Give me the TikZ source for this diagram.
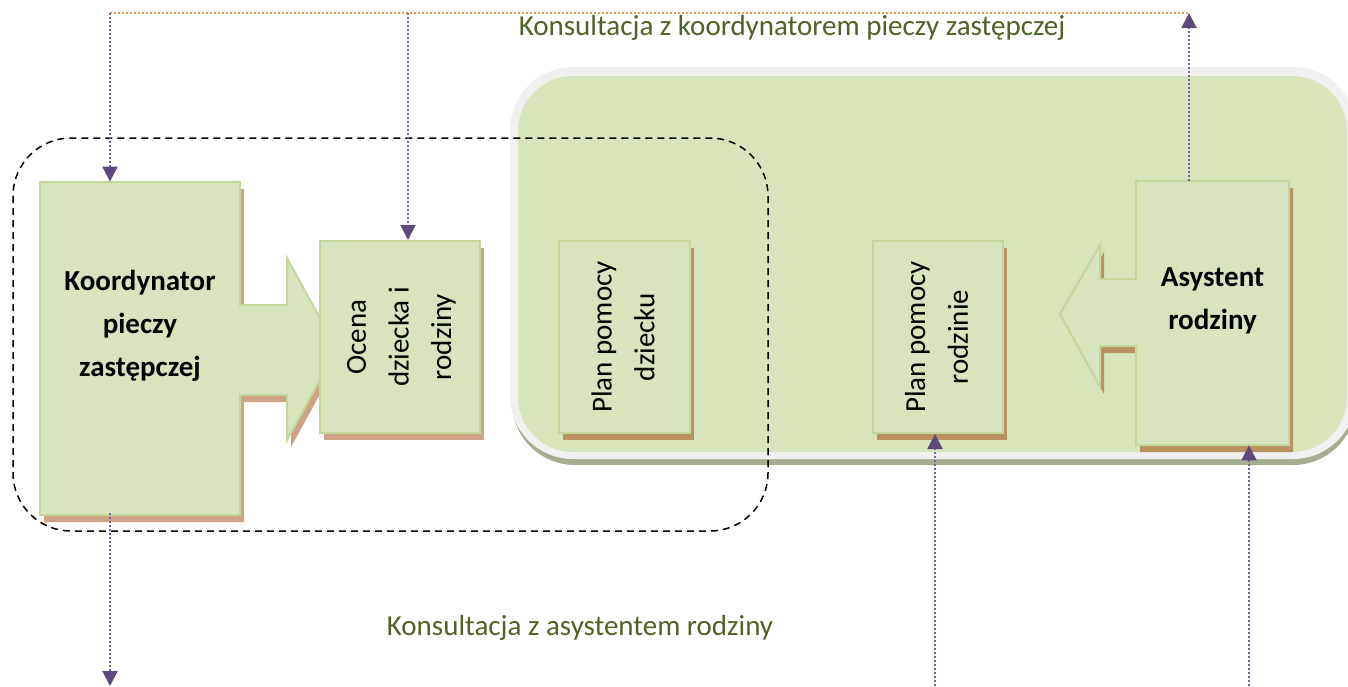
\documentclass[tikz,border=0pt]{standalone}
\usepackage{fontspec}
\usepackage{graphicx}
\setmainfont{Carlito}
\usetikzlibrary{arrows.meta,shadows}
\definecolor{boxfill}{HTML}{D7E4BD}
\definecolor{boxline}{HTML}{C3D69B}
\definecolor{shadowA}{HTML}{CDA385}
\definecolor{shadowB}{HTML}{B89260}
\definecolor{panelgreen}{HTML}{D8E4BC}
\definecolor{panelgray}{HTML}{F0F0F0}
\definecolor{panelshadow}{HTML}{A5AE93}
\definecolor{labelgreen}{HTML}{4F6228}
\definecolor{dotorange}{HTML}{F79646}
\definecolor{dotpurple}{HTML}{7462A0}
\definecolor{tippurple}{HTML}{5F497A}
\begin{document}
\begin{tikzpicture}[x=0.5pt,y=-0.5pt,
  boxshape/.style={fill=boxfill, draw=boxline, line width=1pt},
  shadowleft/.style={drop shadow={shadow xshift=2pt,shadow yshift=-3.5pt,fill=shadowA,opacity=1}},
  shadowright/.style={drop shadow={shadow xshift=2pt,shadow yshift=-3.5pt,fill=shadowB,opacity=1}},
  vbox/.style={boxshape, inner sep=0pt, font=\fontsize{14.5}{21.3}\selectfont},
  anchorbox/.style={inner sep=0pt, draw=none},
  btext/.style={align=center, font=\bfseries\fontsize{14.5}{21.5}\selectfont},
  lbl/.style={text=labelgreen, inner sep=0pt, font=\fontsize{14.5}{17}\selectfont},
  link/.style={draw=dotpurple, line width=1pt, dash pattern=on 1pt off 1pt,
    -{Triangle[width=7.5pt,length=7.5pt,color=tippurple,fill=tippurple]}},
  orangeline/.style={draw=dotorange, line width=0.8pt, dash pattern=on 0.8pt off 1.2pt},
  groupline/.style={draw=black, line width=0.75pt, dash pattern=on 3.5pt off 2.5pt, rounded corners=29pt}
]
\useasboundingbox (0,0) rectangle (1348,686);

% container panel
\fill[panelshadow, rounded corners=31.5pt] (512,73) rectangle (1356,465);
\fill[panelgray, rounded corners=31.5pt] (510,67) rectangle (1356,459);
\fill[panelgreen, rounded corners=27.5pt] (518,76) rectangle (1347,452);

% dashed group
\draw[groupline] (13,138) rectangle (768,531);

% Koordynator shape with arrow
\path[boxshape, shadowleft] (40,182) -- (240,182) -- (240,305) -- (287,305) -- (287,258)
  -- (337,349) -- (287,440) -- (287,395) -- (240,395) -- (240,515) -- (40,515) -- cycle;
\node[anchorbox, minimum width=100pt, minimum height=166.5pt,
  label={[btext, yshift=11.25pt]center:Koordynator\\pieczy\\zastępczej}] (koord) at (140,348.5) {};

% Ocena
\node[vbox, shadowleft, minimum width=80pt, minimum height=96pt] (ocena) at (400,337)
  {\rotatebox{90}{\begin{tabular}{@{}c@{}}Ocena\\dziecka i\\rodziny\end{tabular}}};

% Plan pomocy dziecku
\node[vbox, shadowright, minimum width=65.5pt, minimum height=96pt] (plandz) at (624.5,337)
  {\rotatebox{90}{\begin{tabular}{@{}c@{}}Plan pomocy\\dziecku\end{tabular}}};

% Plan pomocy rodzinie
\node[vbox, shadowright, minimum width=65pt, minimum height=96pt] (planrodz) at (938,337)
  {\rotatebox{90}{\begin{tabular}{@{}c@{}}Plan pomocy\\rodzinie\end{tabular}}};

% Asystent shape with arrow
\path[boxshape, shadowright] (1136,181) -- (1289,181) -- (1289,445) -- (1136,445) -- (1136,346)
  -- (1100,346) -- (1100,387) -- (1060,314) -- (1100,245) -- (1100,279) -- (1136,279) -- cycle;
\node[anchorbox, minimum width=76.5pt, minimum height=132pt,
  label={[btext, yshift=6.25pt]center:Asystent\\rodziny}] (asyst) at (1212.5,313) {};

% labels
\node[lbl] (konsA) at (792,28) {Konsultacja z koordynatorem pieczy zastępczej};
\node[lbl] (konsB) at (580,628) {Konsultacja z asystentem rodziny};

% free ends of connectors
\coordinate (tl) at (110,13);
\coordinate (tm) at (408,13);
\coordinate (tr) at (1189,13);
\coordinate (bl) at (110,686);
\coordinate (bm) at (935,686);
\coordinate (br) at (1249,686);

\draw[orangeline] (tl) -- (tr);
\draw[link] (tl) -- (tl |- koord.north);
\draw[link] (tm) -- (tm |- ocena.north);
\draw[link] (tr |- asyst.north) -- (tr);
\draw[link] ([yshift=1pt]bl |- koord.south) -- (bl);
\draw[link] (bm) -- (bm |- planrodz.south);
\draw[link] (br) -- (br |- asyst.south);
\end{tikzpicture}
\end{document}
